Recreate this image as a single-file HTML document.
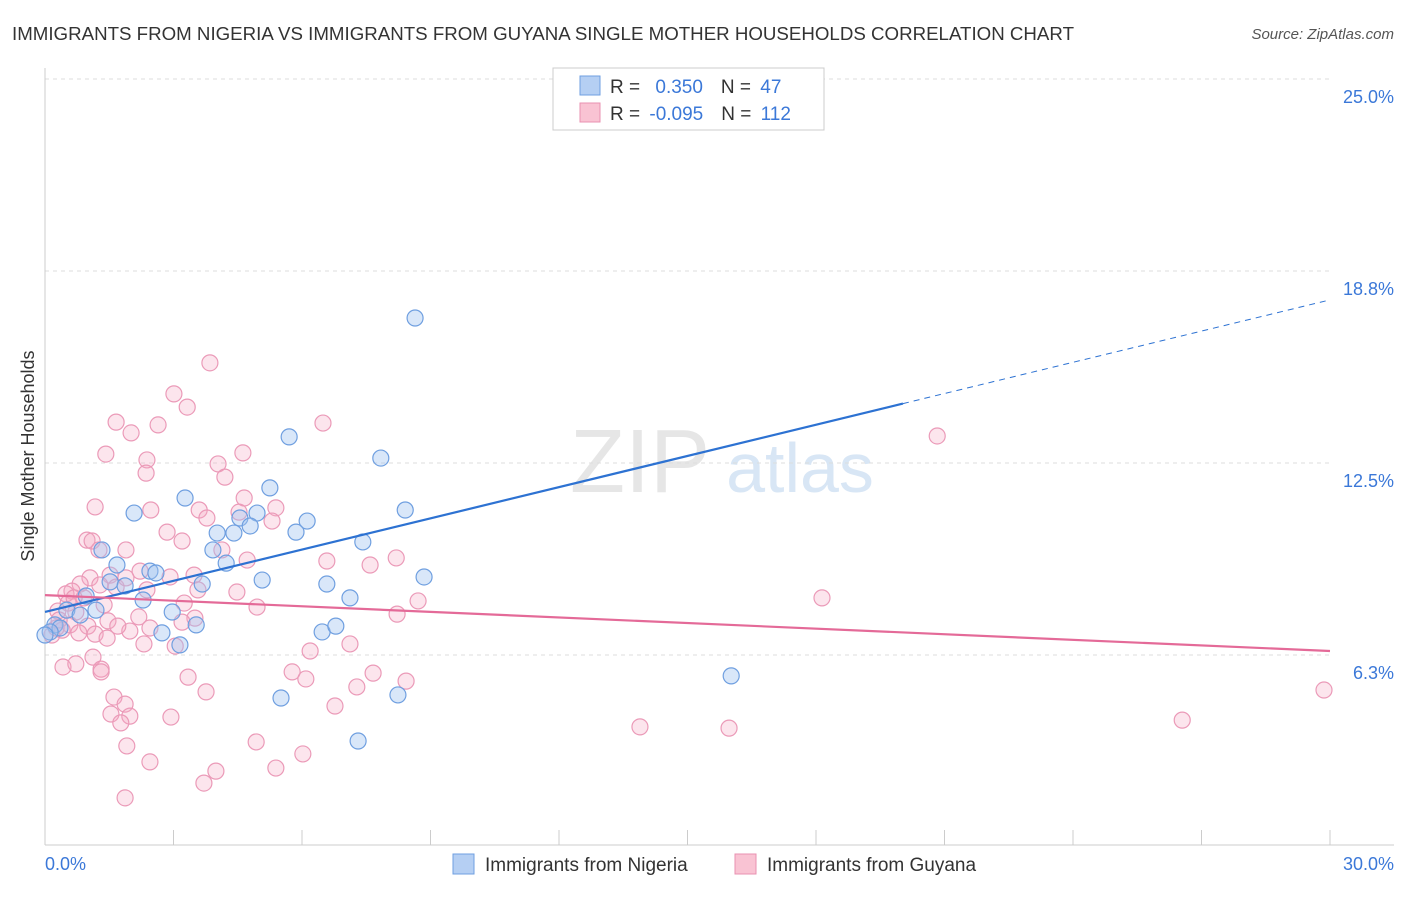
<!DOCTYPE html>
<html><head><meta charset="utf-8"><style>
body{margin:0;background:#fff;font-family:"Liberation Sans",sans-serif}
svg text{font-family:"Liberation Sans",sans-serif}
</style></head><body>
<svg id="c" width="1406" height="892" viewBox="0 0 1406 892">
<text x="12" y="40" font-size="18" fill="#333" textLength="1062" lengthAdjust="spacingAndGlyphs">IMMIGRANTS FROM NIGERIA VS IMMIGRANTS FROM GUYANA SINGLE MOTHER HOUSEHOLDS CORRELATION CHART</text>
<text x="1394" y="39" font-size="15" fill="#555" text-anchor="end" font-style="italic">Source: ZipAtlas.com</text>
<text x="640" y="492" font-size="90" fill="#e6e6e6" text-anchor="middle" font-family="Liberation Serif">ZIP</text>
<text x="800" y="492" font-size="70" fill="#d8e6f5" text-anchor="middle">atlas</text>
<g id="grid"></g><g id="axes"></g><g id="pts"></g><g id="trend"></g>
<text transform="translate(34,456) rotate(-90)" font-size="18" fill="#333" text-anchor="middle">Single Mother Households</text>
<text x="45" y="870" font-size="18" fill="#3b78d8">0.0%</text>
<text x="1394" y="870" font-size="18" fill="#3b78d8" text-anchor="end">30.0%</text>
<g>
<rect x="553" y="68" width="271" height="62" fill="#fff" stroke="#ccc"/>
<rect x="580" y="76" width="20" height="19" fill="#b5cff3" stroke="#6f9fe0"/>
<rect x="580" y="103" width="20" height="19" fill="#f9c3d3" stroke="#e990b0"/>
<text x="610" y="93" font-size="19" fill="#333">R = <tspan fill="#3b78d8" dx="10">0.350</tspan><tspan dx="18" fill="#333">N = </tspan><tspan fill="#3b78d8" dx="4">47</tspan></text>
<text x="610" y="120" font-size="19" fill="#333">R = <tspan fill="#3b78d8" dx="4">-0.095</tspan><tspan dx="18" fill="#333">N = </tspan><tspan fill="#3b78d8" dx="4">112</tspan></text>
</g>
<g>
<rect x="453" y="854" width="21" height="20" fill="#b5cff3" stroke="#6f9fe0"/>
<text x="485" y="871" font-size="19" fill="#333">Immigrants from Nigeria</text>
<rect x="735" y="854" width="21" height="20" fill="#f9c3d3" stroke="#e990b0"/>
<text x="767" y="871" font-size="19" fill="#333">Immigrants from Guyana</text>
</g>
</svg>
<script>
const yTicks=[6.25,12.5,18.75,25];
const yTickLabels=["6.3%","12.5%","18.8%","25.0%"];
const xTicks=[0,3,6,9,12,15,18,21,24,27,30];
const nigeriaX=[8.64,5.70,7.84,3.27,5.25,2.08,8.41,4.95,4.55,6.12,4.79,4.02,4.41,5.86,7.42,1.33,3.92,1.68,4.23,2.45,2.59,5.07,3.67,6.58,8.85,1.52,1.87,0.96,2.29,7.12,1.19,2.97,0.51,0.82,3.53,2.73,6.47,6.79,3.15,5.51,8.24,7.31,16.02,0.23,0.35,0.12,0];
const nigeriaY=[17.22,13.35,12.66,11.36,11.69,10.87,10.97,10.87,10.71,10.61,10.45,10.22,10.22,10.25,9.93,9.67,9.67,9.18,9.24,8.98,8.92,8.69,8.56,8.56,8.79,8.63,8.50,8.17,8.04,8.11,7.71,7.65,7.71,7.55,7.23,6.97,7.00,7.19,6.58,4.85,4.95,3.45,5.57,7.23,7.13,7.00,6.90];
const guyanaX=[3.85,3.01,3.32,6.49,1.66,2.01,2.64,1.42,4.62,2.38,4.04,4.20,2.36,4.65,1.17,2.47,3.60,5.39,4.53,3.78,5.30,2.85,3.20,0.98,1.10,1.26,4.13,1.89,4.72,6.58,7.59,8.20,2.22,1.52,1.05,2.92,3.48,0.82,0.63,0.49,1.66,2.38,3.57,1.89,4.48,8.71,18.14,1.38,4.95,3.25,8.22,0.72,0.30,2.19,3.50,1.47,3.20,0.58,1.00,0.40,0.16,0.26,1.17,2.45,1.45,1.98,1.70,0.79,2.31,7.12,3.04,6.19,1.12,0.42,0.72,1.31,1.31,5.77,7.66,3.34,6.09,8.43,7.28,3.76,1.61,1.87,29.86,6.77,1.54,1.98,1.77,2.94,13.89,15.97,26.55,4.93,1.91,6.02,2.45,5.39,3.99,3.71,1.87,20.83,0.91,1.28,0.54,0.68,0.33];
const guyanaY=[15.76,14.75,14.32,13.80,13.83,13.48,13.74,12.79,12.83,12.60,12.47,12.04,12.17,11.36,11.07,10.97,10.97,11.04,10.90,10.71,10.61,10.25,9.96,9.99,9.96,9.67,9.67,9.67,9.34,9.31,9.18,9.41,8.98,8.85,8.76,8.79,8.85,8.56,8.33,8.24,8.46,8.37,8.37,8.76,8.30,8.01,8.11,7.88,7.81,7.94,7.58,7.65,7.68,7.49,7.45,7.36,7.32,7.23,7.19,7.06,6.90,7.13,6.93,7.13,6.80,7.03,7.19,6.97,6.61,6.61,6.54,6.38,6.18,5.86,5.96,5.79,5.70,5.70,5.66,5.53,5.47,5.40,5.21,5.05,4.88,4.65,5.11,4.59,4.33,4.26,4.04,4.23,3.91,3.87,4.13,3.42,3.29,3.03,2.77,2.57,2.47,2.08,1.60,13.38,8.11,8.53,7.94,8.11,7.39];
const nigeriaTrend=[7.65,17.81]; const nigeriaSolidEnd=20.03;
const guyanaTrend=[8.20,6.38];
const NS="http://www.w3.org/2000/svg";
const X=v=>45+v*(1285/30), Y=v=>847-v*30.72;
function mk(tag,attrs,parent){const e=document.createElementNS(NS,tag);for(const k in attrs)e.setAttribute(k,attrs[k]);document.getElementById(parent).appendChild(e);return e;}
yTicks.forEach((t,i)=>{
 const l=mk('line',{x1:45,x2:1330,y1:Y(t),y2:Y(t),stroke:'#ddd','stroke-dasharray':'4,4'},'grid');
 
 
 const tx=mk('text',{x:1394,y:Y(t)+24,'font-size':18,fill:'#3b78d8','text-anchor':'end'},'grid');tx.textContent=yTickLabels[i];
 
 
});
const ax=mk('line',{x1:45,x2:45,y1:68,y2:845,stroke:'#ccc'},'axes');


const bx=mk('line',{x1:45,x2:1394,y1:845,y2:845,stroke:'#ccc'},'axes');


xTicks.forEach(t=>{const l=mk('line',{x1:X(t),x2:X(t),y1:830,y2:845,stroke:'#ccc'},'axes');
 
 });
guyanaX.forEach((v,i)=>{const c=mk('circle',{cx:X(v),cy:Y(guyanaY[i]),r:8,fill:'rgba(245,170,195,0.3)',stroke:'#eb9ab8','stroke-width':1.2},'pts');
 
 });
nigeriaX.forEach((v,i)=>{const c=mk('circle',{cx:X(v),cy:Y(nigeriaY[i]),r:8,fill:'rgba(160,196,240,0.4)',stroke:'#6f9fe0','stroke-width':1.2},'pts');
 
 });
const ty=x=>nigeriaTrend[0]+(nigeriaTrend[1]-nigeriaTrend[0])*x/30;
const t1=mk('line',{x1:X(0),y1:Y(ty(0)),x2:X(nigeriaSolidEnd),y2:Y(ty(nigeriaSolidEnd)),stroke:'#2d72d2','stroke-width':2.2},'trend');


const t2=mk('line',{x1:X(nigeriaSolidEnd),y1:Y(ty(nigeriaSolidEnd)),x2:X(30),y2:Y(ty(30)),stroke:'#2d72d2','stroke-width':1,'stroke-dasharray':'6,5'},'trend');


const t3=mk('line',{x1:X(0),y1:Y(guyanaTrend[0]),x2:X(30),y2:Y(guyanaTrend[1]),stroke:'#e46a98','stroke-width':2.2},'trend');


</script>
</body></html>
